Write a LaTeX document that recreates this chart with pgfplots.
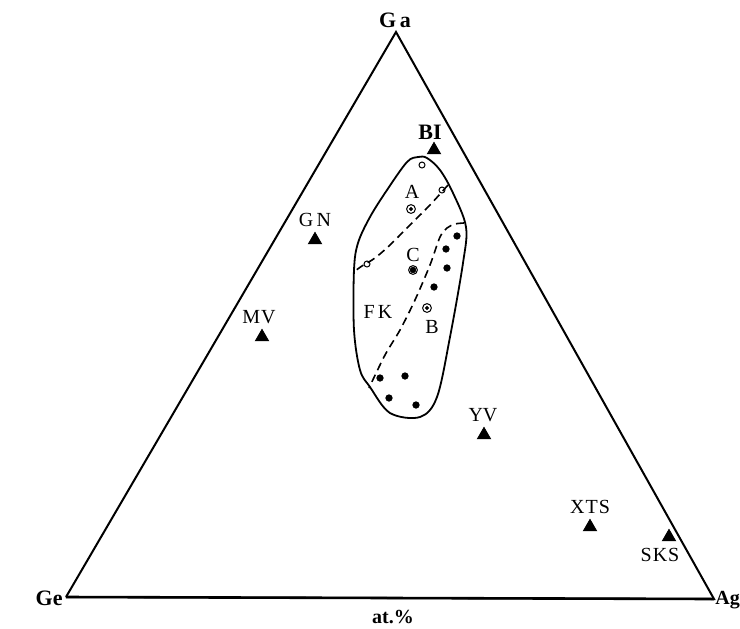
\documentclass[border=0pt]{standalone}
\usepackage{pgfplots}
\pgfplotsset{compat=1.18}
\usepackage{fontspec}
\setmainfont{Liberation Serif}

\begin{document}
\begin{tikzpicture}
\begin{axis}[
  name=tern,
  scale only axis, width=370pt, height=314pt,
  xmin=0, xmax=740, ymin=0, ymax=628, y dir=reverse,
  hide axis, clip=false,
  every node/.append style={font=\fontsize{11}{13}\selectfont},
]
% triangle frame (Ge - Ga - Ag)
\addplot[black, line width=1pt, mark=none] coordinates {(66,597) (396,32) (714,599) (66,597)};
\addplot[black, line width=1.3pt, mark=none] coordinates {(66,597) (714,599)};

% FK field outline
\addplot[black, line width=0.9pt, smooth cycle, tension=0.55, mark=none] coordinates {
  (418,157) (427,158) (440,170) (453,193) (466,227) (463,263) (450,337)
  (437,397) (420,417) (390,413) (370,387) (360,370) (354,330) (354,270)
  (358,243) (370,217) (387,190) (407,162)};

% dashed boundaries
\addplot[black, line width=0.8pt, dash pattern=on 4pt off 2.5pt, smooth, mark=none] coordinates {
  (448,185) (430,205) (410,225) (390,245) (375,258) (362,266) (355,271)};
\addplot[black, line width=0.8pt, dash pattern=on 4pt off 2.5pt, smooth, mark=none] coordinates {
  (464,223) (455,224) (447,228) (440,237) (430,265) (415,300) (400,330) (385,355) (369,388)};

% mineral deposits (triangles)
\addplot[only marks, mark=triangle*, mark size=3.8pt, black] coordinates {
  (434,150) (315,240) (262,337) (484,435) (590,527) (669,537)};

% open circles
\addplot[only marks, mark=o, mark size=1.5pt, black, line width=0.5pt] coordinates {
  (422,165) (442,190) (367,264)};

% filled dots
\addplot[only marks, mark=*, mark size=1.6pt, black] coordinates {
  (457,236) (446,249) (447,268) (434,287) (380,378) (405,376) (389,398) (416,405)};

% double circles A, C, B
\addplot[only marks, mark=o, mark size=2.2pt, black, line width=0.5pt] coordinates {
  (411,209) (413,270) (427,308)};
\addplot[only marks, mark=*, mark size=0.8pt, black] coordinates {(411,209) (427,308)};
\addplot[only marks, mark=*, mark size=1.4pt, black] coordinates {(413,270)};

% labels
\node[font=\fontsize{11}{13}\selectfont\bfseries] at (axis cs:395,20) {G\,a};
\node[font=\fontsize{11}{13}\selectfont\bfseries] at (axis cs:430,132) {BI};
\node at (axis cs:412,192) {A};
\node at (axis cs:413,255) {C};
\node at (axis cs:432,327) {B};
\node at (axis cs:378,312) {F\,K};
\node at (axis cs:315,220) {G\,N};
\node at (axis cs:259,317) {M\kern0.5pt V};
\node at (axis cs:483,415) {YV};
\node at (axis cs:590,507) {X\kern0.5pt T\kern0.5pt S};
\node at (axis cs:660,555) {S\kern0.5pt K\kern0.5pt S};
\node[anchor=east, inner sep=1pt, font=\fontsize{11}{13}\selectfont\bfseries] at (axis cs:65,598) {Ge};
\node[anchor=west, inner sep=0pt, font=\fontsize{10}{12}\selectfont\bfseries] at (axis cs:715,600) {Ag};
\node[font=\fontsize{10}{12}\selectfont\bfseries] at (axis cs:393,617) {at.\%};
\end{axis}
\pgfresetboundingbox
\path[use as bounding box] (tern.south west) rectangle (tern.north east);
\end{tikzpicture}
\end{document}
